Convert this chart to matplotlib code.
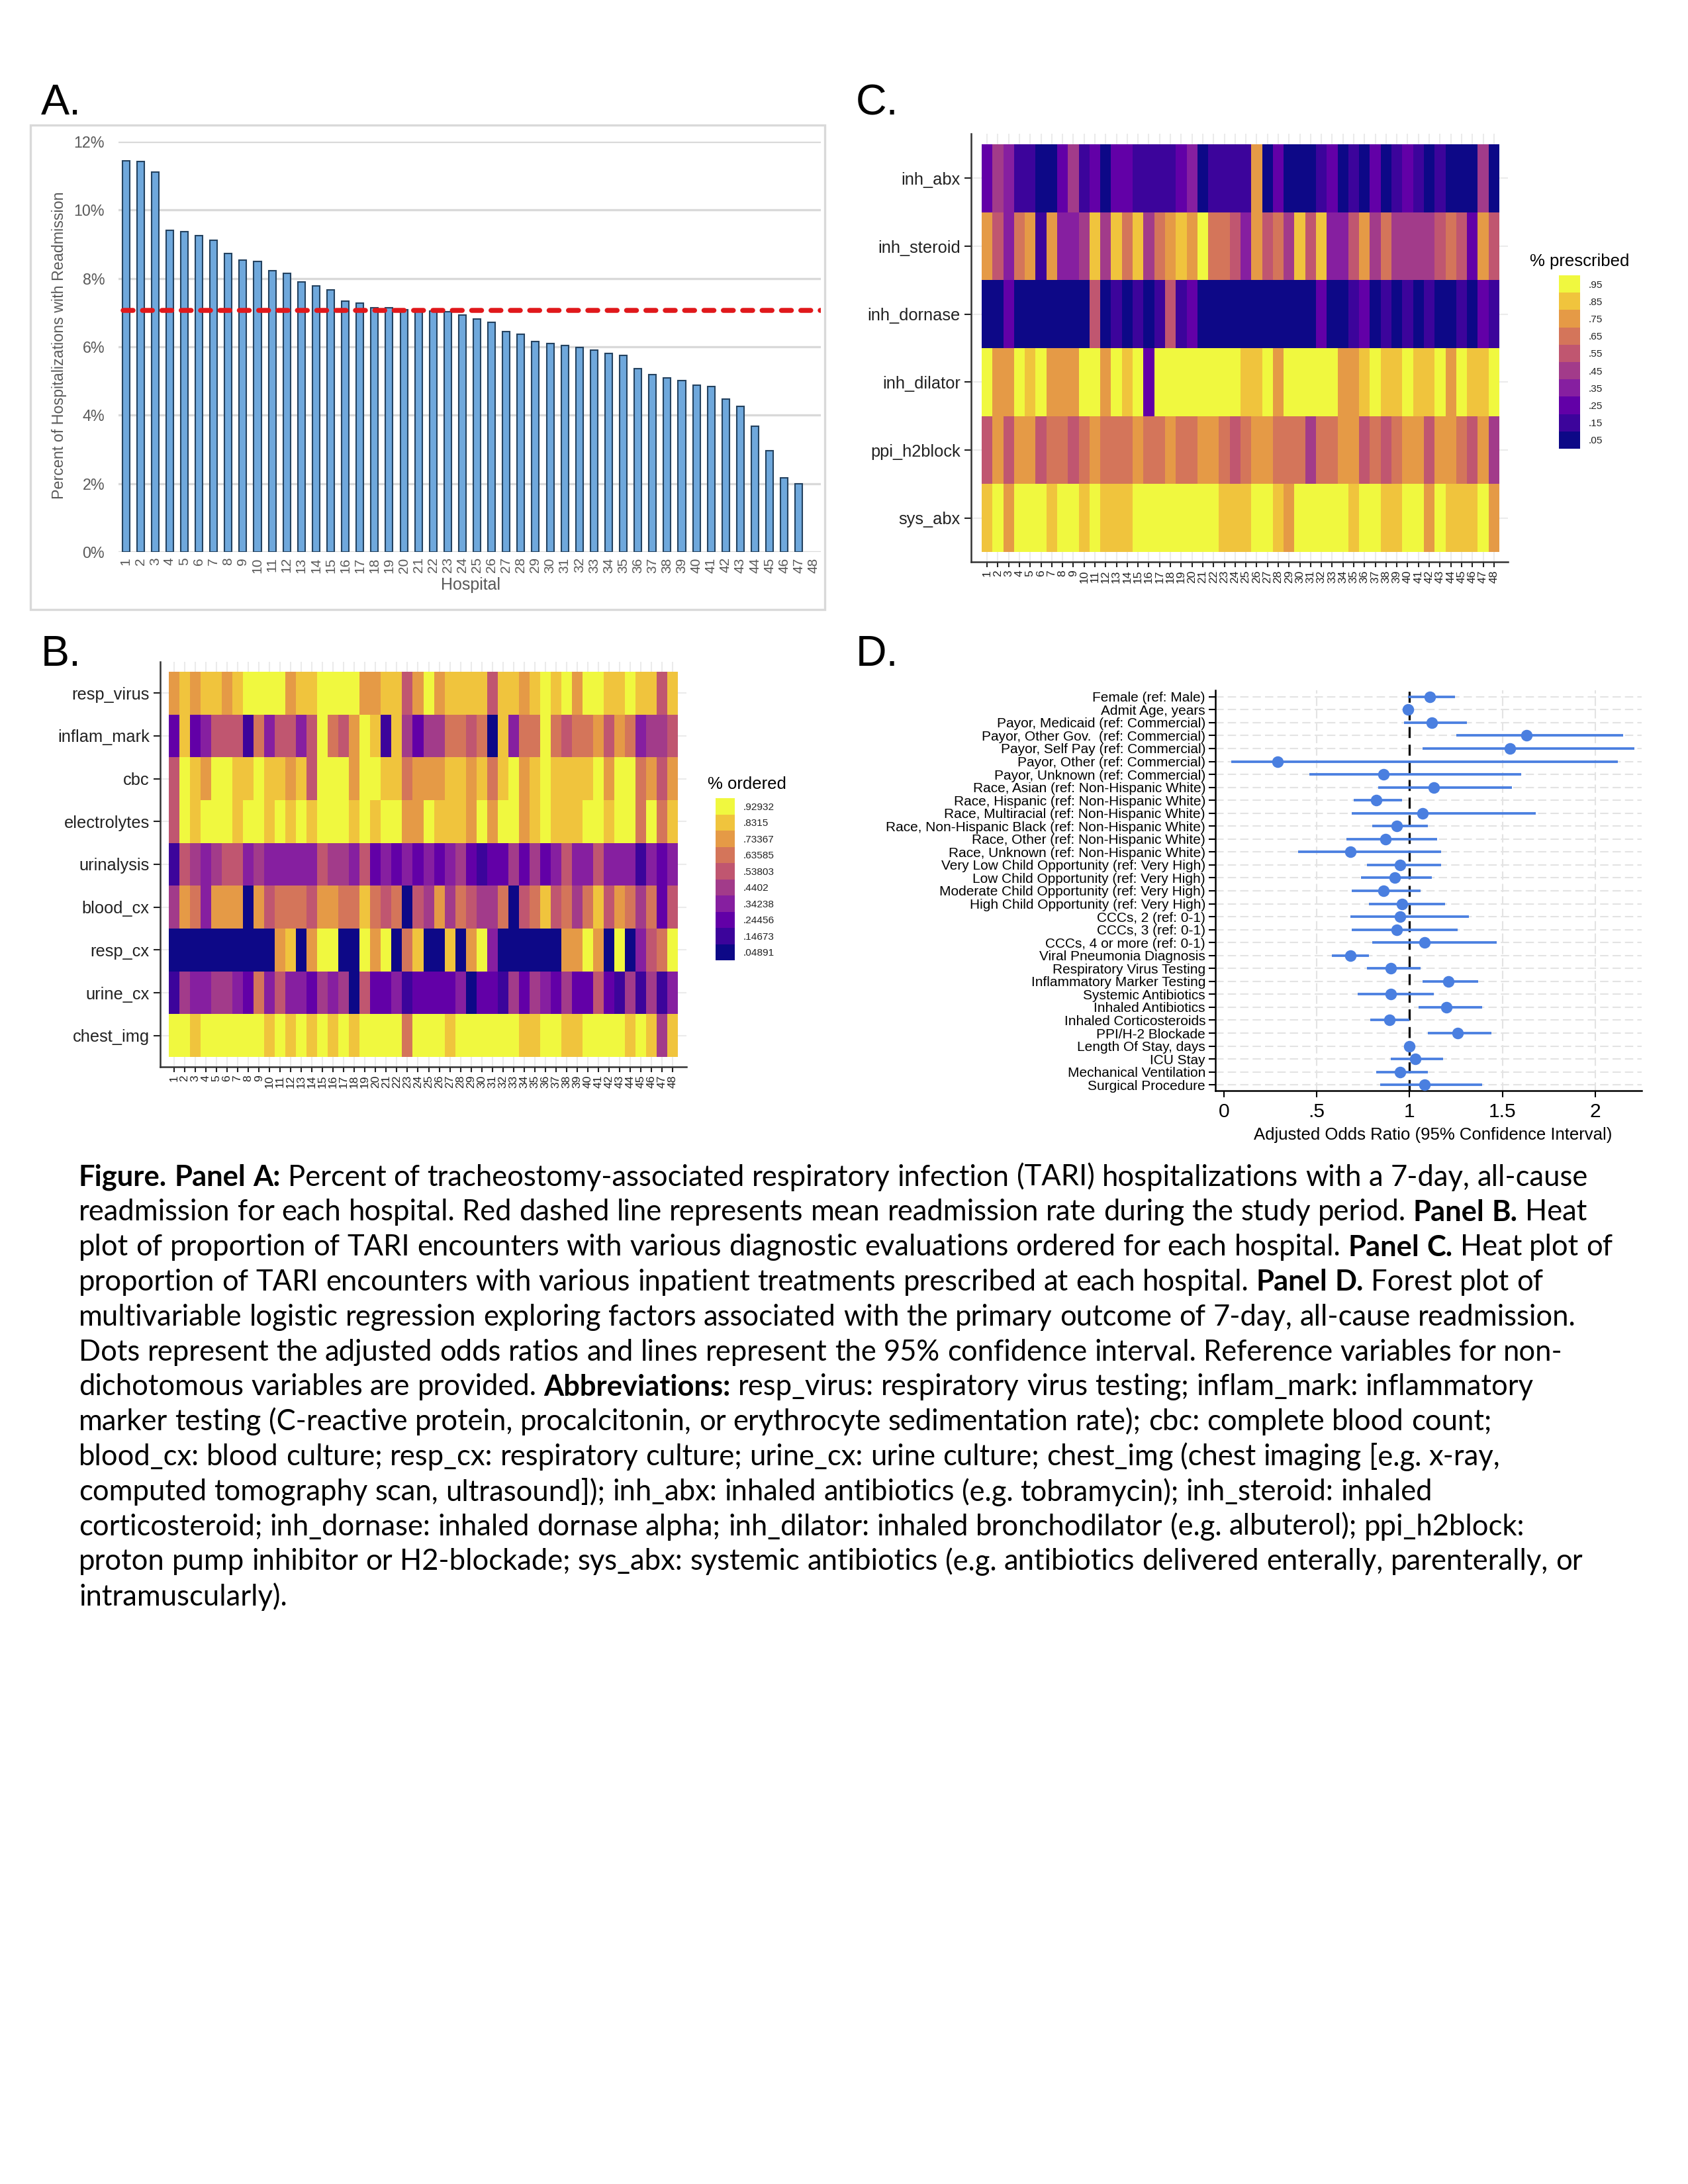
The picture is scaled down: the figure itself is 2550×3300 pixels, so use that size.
import numpy as np
import matplotlib
matplotlib.use('Agg')
import matplotlib.pyplot as plt
from matplotlib.colors import ListedColormap, BoundaryNorm
from matplotlib.patches import Rectangle
from matplotlib.font_manager import FontProperties

## ---------------- data ----------------
# Panel A : 7-day readmission (%) by hospital
hosp_ticks = [str(k) for k in range(1, 49)]
readmit = [11.44, 11.41, 11.11, 9.41, 9.36, 9.26, 9.12, 8.72, 8.54, 8.50, 8.23, 8.14,
           7.90, 7.78, 7.67, 7.33, 7.28, 7.15, 7.15, 7.08, 7.07, 7.05, 7.03, 6.92,
           6.82, 6.72, 6.45, 6.37, 6.15, 6.09, 6.04, 5.98, 5.91, 5.80, 5.74, 5.37,
           5.19, 5.10, 5.01, 4.88, 4.84, 4.47, 4.25, 3.68, 2.96, 2.17, 1.99]
mean_readmit = 7.06

# Panel B : proportion ordered
rows_B = ['resp_virus', 'inflam_mark', 'cbc', 'electrolytes', 'urinalysis',
          'blood_cx', 'resp_cx', 'urine_cx', 'chest_img']
resp_virus = [.75,.85,.75,.85,.85,.75,.85,.95, .95,.95,.95,.75,.85,.85,.95,.95,
              .95,.95,.75,.75,.85,.85,.55,.75, .95,.75,.85,.85,.85,.85,.55,.85,
              .85,.75,.85,.95,.85,.95,.75,.95, .95,.85,.85,.95,.85,.85,.55,.85]
inflam_mark = [.25,.85,.25,.35,.55,.55,.55,.15, .65,.35,.55,.55,.35,.55,.95,.65,
               .55,.75,.95,.85,.15,.85,.45,.25, .45,.45,.65,.65,.55,.65,.05,.85,
               .35,.65,.65,.95,.65,.55,.65,.65, .75,.55,.75,.65,.35,.45,.45,.55]
cbc = [.55,.95,.85,.75,.95,.95,.85,.85, .95,.85,.85,.75,.85,.55,.95,.95,
       .95,.75,.95,.95,.85,.85,.65,.75, .75,.75,.85,.85,.75,.85,.65,.85,
       .95,.75,.85,.95,.85,.85,.85,.85, .95,.75,.95,.95,.65,.75,.55,.75]
electrolytes = [.55,.95,.85,.95,.95,.95,.85,.95, .95,.85,.95,.85,.95,.85,.95,.95,
                .95,.85,.95,.85,.95,.95,.75,.75, .95,.85,.85,.85,.75,.95,.75,.95,
                .95,.75,.85,.95,.85,.85,.85,.95, .95,.85,.95,.95,.65,.95,.65,.85]
urinalysis = [.15,.55,.45,.35,.45,.55,.55,.35, .45,.35,.35,.35,.35,.35,.55,.45,
              .45,.35,.55,.25,.35,.25,.35,.25, .35,.25,.35,.45,.25,.15,.25,.25,
              .45,.25,.45,.25,.35,.55,.35,.35, .55,.35,.35,.35,.15,.35,.25,.35]
blood_cx = [.45,.75,.65,.35,.75,.75,.75,.05, .75,.55,.65,.65,.65,.55,.75,.75,
            .65,.65,.85,.65,.55,.65,.05,.55, .45,.75,.45,.65,.55,.45,.45,.65,
            .05,.55,.65,.85,.55,.65,.45,.65, .85,.55,.75,.65,.45,.65,.25,.55]
resp_cx = [.05,.05,.05,.05,.05,.05,.05,.05, .05,.05,.75,.85,.05,.75,.95,.95,
           .05,.05,.95,.75,.95,.05,.65,.85, .05,.05,.85,.05,.75,.95,.35,.05,
           .05,.05,.05,.05,.05,.75,.75,.95, .75,.05,.95,.05,.35,.55,.65,.95]
urine_cx = [.15,.45,.35,.35,.45,.45,.35,.25, .65,.35,.55,.35,.35,.25,.45,.35,
            .45,.05,.55,.25,.25,.35,.15,.25, .25,.25,.25,.35,.05,.25,.25,.15,
            .45,.25,.45,.35,.25,.45,.25,.25, .55,.25,.15,.45,.15,.45,.15,.35]
chest_img = [.95,.95,.85,.95,.95,.95,.95,.95, .95,.85,.95,.85,.95,.85,.95,.85,
             .95,.85,.95,.95,.95,.95,.65,.95, .95,.95,.85,.95,.95,.95,.95,.95,
             .95,.85,.85,.95,.95,.85,.85,.95, .95,.95,.95,.85,.95,.85,.45,.85]
legend_B = ['.04891', '.14673', '.24456', '.34238', '.4402', '.53803', '.63585',
            '.73367', '.8315', '.92932']

# Panel C : proportion prescribed
rows_C = ['inh_abx', 'inh_steroid', 'inh_dornase', 'inh_dilator', 'ppi_h2block', 'sys_abx']
inh_abx = [.25,.45,.35,.15,.15,.05,.05,.25, .45,.15,.25,.05,.25,.25,.15,.15,
           .15,.15,.25,.35,.05,.15,.15,.15, .15,.75,.05,.25,.05,.05,.05,.15,
           .25,.05,.15,.05,.25,.05,.15,.25, .15,.05,.15,.05,.05,.05,.45,.05]
inh_steroid = [.75,.55,.35,.65,.75,.15,.75,.35, .35,.45,.85,.45,.85,.65,.85,.45,
               .65,.75,.85,.75,.95,.65,.65,.55, .35,.75,.55,.65,.45,.85,.55,.85,
               .35,.35,.55,.75,.45,.65,.45,.45, .45,.45,.55,.65,.55,.25,.75,.55]
inh_dornase = [.05,.05,.25,.05,.05,.05,.05,.05, .05,.05,.55,.05,.15,.05,.15,.05,
               .15,.55,.15,.25,.05,.05,.05,.05, .05,.05,.05,.05,.05,.05,.05,.25,
               .05,.05,.15,.25,.05,.15,.05,.15, .05,.15,.05,.05,.15,.05,.25,.15]
inh_dilator = [.95,.75,.75,.95,.85,.95,.75,.75, .75,.95,.95,.75,.95,.85,.95,.25,
               .95,.95,.95,.95,.95,.95,.95,.95, .85,.85,.95,.75,.95,.95,.95,.95,
               .95,.75,.75,.85,.95,.85,.85,.95, .85,.85,.95,.75,.95,.85,.85,.95]
ppi_h2block = [.55,.75,.55,.75,.75,.55,.65,.65, .55,.65,.75,.65,.65,.65,.75,.65,
               .65,.75,.65,.65,.75,.75,.65,.55, .65,.75,.75,.65,.65,.65,.45,.65,
               .65,.75,.75,.55,.65,.55,.65,.75, .75,.55,.75,.75,.65,.55,.75,.45]
sys_abx = [.85,.95,.75,.95,.95,.95,.85,.95, .95,.85,.95,.85,.85,.85,.95,.95,
           .95,.95,.95,.95,.95,.95,.85,.85, .85,.95,.95,.85,.75,.95,.95,.95,
           .95,.95,.85,.95,.95,.85,.85,.95, .95,.75,.95,.85,.85,.85,.95,.75]
legend_C = ['.05', '.15', '.25', '.35', '.45', '.55', '.65', '.75', '.85', '.95']

# Panel D : adjusted odds ratios
labels_D = ["Female (ref: Male)", "Admit Age, years", "Payor, Medicaid (ref: Commercial)",
            "Payor, Other Gov.  (ref: Commercial)", "Payor, Self Pay (ref: Commercial)",
            "Payor, Other (ref: Commercial)", "Payor, Unknown (ref: Commercial)",
            "Race, Asian (ref: Non-Hispanic White)", "Race, Hispanic (ref: Non-Hispanic White)",
            "Race, Multiracial (ref: Non-Hispanic White)",
            "Race, Non-Hispanic Black (ref: Non-Hispanic White)",
            "Race, Other (ref: Non-Hispanic White)", "Race, Unknown (ref: Non-Hispanic White)",
            "Very Low Child Opportunity (ref: Very High)", "Low Child Opportunity (ref: Very High)",
            "Moderate Child Opportunity (ref: Very High)", "High Child Opportunity (ref: Very High)",
            "CCCs, 2 (ref: 0-1)", "CCCs, 3 (ref: 0-1)", "CCCs, 4 or more (ref: 0-1)",
            "Viral Pneumonia Diagnosis", "Respiratory Virus Testing", "Inflammatory Marker Testing",
            "Systemic Antibiotics", "Inhaled Antibiotics", "Inhaled Corticosteroids",
            "PPI/H-2 Blockade", "Length Of Stay, days", "ICU Stay", "Mechanical Ventilation",
            "Surgical Procedure"]
aor = [1.11, 0.99, 1.12, 1.63, 1.54, 0.29, 0.86, 1.13, 0.82, 1.07, 0.93, 0.87, 0.68,
       0.95, 0.92, 0.86, 0.96, 0.95, 0.93, 1.08, 0.68, 0.90, 1.21, 0.90, 1.20, 0.89,
       1.26, 1.00, 1.03, 0.95, 1.08]
ci_lo = [0.99, 0.985, 0.97, 1.25, 1.07, 0.04, 0.46, 0.83, 0.70, 0.69, 0.80, 0.66, 0.40,
         0.77, 0.74, 0.69, 0.78, 0.68, 0.69, 0.80, 0.58, 0.77, 1.07, 0.72, 1.05, 0.79,
         1.10, 0.995, 0.90, 0.82, 0.84]
ci_hi = [1.245, 1.0, 1.31, 2.15, 2.21, 2.12, 1.60, 1.55, 0.96, 1.68, 1.10, 1.15, 1.17,
         1.17, 1.12, 1.06, 1.19, 1.32, 1.26, 1.47, 0.78, 1.06, 1.37, 1.13, 1.39, 1.00,
         1.44, 1.005, 1.18, 1.10, 1.39]

## ---------------- figure ----------------
W, H = 2550, 3300
fig = plt.figure(figsize=(8.5, 11), dpi=300)
plt.rcParams['font.family'] = ['Liberation Sans', 'DejaVu Sans']

def box(x0, y0, x1, y1):  # pixel box (top-left origin) -> figure fraction
    return [x0 / W, 1 - y1 / H, (x1 - x0) / W, (y1 - y0) / H]

# plasma, 10 steps (a bit muted, as in the picture)
steps10 = ['#0d0887', '#3c049b', '#6200a7', '#861fa0', '#a23b8a', '#c05670',
           '#d4755a', '#e59a46', '#f0c43d', '#f0f83f']
cmap10 = ListedColormap(steps10)

# panel letters
for txt, x, y in [('A.', 62, 156), ('C.', 1293, 156), ('B.', 62, 989), ('D.', 1293, 989)]:
    fig.text(x / W, 1 - y / H, txt, fontsize=15.5, va='center', ha='left')

#-------------------- Panel A --------------------
grey = '#595959'
fig.patches.append(Rectangle((46 / W, 1 - 921 / H), (1246 - 46) / W, (921 - 189) / H,
                             transform=fig.transFigure, fill=False, ec='#d9d9d9', lw=0.8))
axA = fig.add_axes(box(179, 214, 1240, 834))
pos = np.arange(1, len(readmit) + 1)
axA.bar(pos, readmit, width=0.5, color='#6fa8dc', edgecolor='#24425f', lw=0.5, zorder=2)
axA.plot([0.8, 48.5], [mean_readmit, mean_readmit], color='#e0181b', lw=1.8,
         ls=(0, (2.0, 1.9)), dash_capstyle='round', zorder=3)
axA.set_xlim(0.5, 48.5)
axA.set_ylim(0, 12)
axA.set_yticks(range(0, 13, 2))
axA.set_yticklabels(['%d%%' % v for v in range(0, 13, 2)])
axA.set_xticks(range(1, 49))
axA.set_xticklabels(hosp_ticks, rotation=90)
axA.tick_params(axis='both', length=0, colors=grey, labelsize=5.6)
axA.tick_params(axis='y', pad=5)
axA.tick_params(axis='x', pad=2, labelsize=5.0)
axA.grid(axis='y', color='#d9d9d9', lw=0.8, zorder=0)
axA.set_axisbelow(True)
for s in axA.spines.values():
    s.set_visible(False)
fig.text(90 / W, 1 - 522 / H, 'Percent of Hospitalizations with Readmission', rotation=90,
         ha='center', va='center', fontsize=5.6, color=grey)
fig.text(711 / W, 1 - 884 / H, 'Hospital', ha='center', va='center', fontsize=6.0, color=grey)

#-------------------- heatmaps --------------------
def heatmap(ax, rows, data, norm, padx, pady):
    vals = np.array(data)
    nr, nc = vals.shape
    for k in range(1, nc + 1):
        ax.axvline(k, color='#ebebeb', lw=0.5, zorder=0)
    for k in range(1, nr + 1):
        ax.axhline(k, color='#ebebeb', lw=0.5, zorder=0)
    ax.pcolormesh(np.arange(0.5, nc + 1), np.arange(0.5, nr + 1), vals, cmap=cmap10,
                  norm=norm, zorder=2)
    ax.set_xlim(0.5 - padx[0], nc + 0.5 + padx[1])
    ax.set_ylim(nr + 0.5 + pady[1], 0.5 - pady[0])
    ax.set_yticks(range(1, nr + 1))
    ax.set_yticklabels(rows)
    ax.set_xticks(range(1, nc + 1))
    ax.set_xticklabels([str(k) for k in range(1, nc + 1)], rotation=90)
    ax.tick_params(axis='y', length=2.4, width=0.5, labelsize=6.1, pad=1.5, colors='#222222')
    ax.tick_params(axis='x', length=2.0, width=0.5, labelsize=4.2, pad=1.0, colors='#222222')
    for s in ['top', 'right']:
        ax.spines[s].set_visible(False)
    for s in ['left', 'bottom']:
        ax.spines[s].set_linewidth(0.6)
        ax.spines[s].set_color('#333333')

def legend(ax, labels, title, tx, ty):
    ax.pcolormesh([0, 1], np.arange(11), np.arange(10).reshape(-1, 1), cmap=cmap10,
                  vmin=-0.5, vmax=9.5)
    ax.set_xlim(0, 1)
    ax.set_ylim(0, 10)
    ax.set_xticks([])
    ax.set_yticks(np.arange(0.5, 10))
    ax.set_yticklabels(labels)
    ax.yaxis.tick_right()
    ax.tick_params(axis='y', length=0, labelsize=3.7, pad=3, colors='#222222')
    for s in ax.spines.values():
        s.set_visible(False)
    fig.text(tx / W, 1 - ty / H, title, fontsize=6.2, ha='left', va='center')

# Panel C
normC = BoundaryNorm(np.linspace(0, 1, 11), 10)
axC = fig.add_axes(box(1467, 202, 2278, 849))
heatmap(axC, rows_C, [inh_abx, inh_steroid, inh_dornase, inh_dilator, ppi_h2block, sys_abx],
        normC, (0.98, 0.8), (0.156, 0.146))
legC = fig.add_axes(box(2355, 416, 2387, 678))
legend(legC, legend_C, '% prescribed', 2311, 395)

# Panel B
normB = BoundaryNorm(np.linspace(0, 0.97820, 11), 10)
axB = fig.add_axes(box(242, 1000, 1037, 1612))
heatmap(axB, rows_B, [resp_virus, inflam_mark, cbc, electrolytes, urinalysis, blood_cx,
                      resp_cx, urine_cx, chest_img], normB, (0.81, 0.81), (0.23, 0.23))
legB = fig.add_axes(box(1081, 1206, 1110, 1451))
legend(legB, legend_B, '% ordered', 1069, 1185)

#-------------------- Panel D --------------------
axD = fig.add_axes(box(1836, 1043, 2480, 1648))
yy = np.arange(len(labels_D))
blue = '#4a7fe0'
for y in yy:
    axD.axhline(y, color='#e3e3e3', lw=0.5, ls=(0, (6, 3)), zorder=0)
for x in [0.5, 1.5, 2.0]:
    axD.axvline(x, color='#e3e3e3', lw=0.5, ls=(0, (6, 3)), zorder=0)
axD.axvline(1, color='#111111', lw=0.8, ls=(0, (5, 3)), zorder=1)
axD.hlines(yy, ci_lo, ci_hi, color=blue, lw=0.9, zorder=2)
axD.plot(aor, yy, 'o', color=blue, ms=3.2, zorder=3)
axD.set_ylim(len(labels_D) - 0.55, -0.5)
axD.set_xlim(-0.046, 2.25)
axD.set_yticks(yy)
axD.set_yticklabels(labels_D)
axD.set_xticks([0, 0.5, 1, 1.5, 2])
axD.set_xticklabels(['0', '.5', '1', '1.5', '2'])
axD.tick_params(axis='y', length=2.4, width=0.5, labelsize=5.0, pad=1.2)
axD.tick_params(axis='x', length=2.4, width=0.5, labelsize=7.2, pad=2)
for s in ['top', 'right']:
    axD.spines[s].set_visible(False)
for s in ['left', 'bottom']:
    axD.spines[s].set_linewidth(0.6)
fig.text(2165 / W, 1 - 1715 / H, 'Adjusted Odds Ratio (95% Confidence Interval)',
         ha='center', va='center', fontsize=6.2)

#-------------------- caption --------------------
cap_family = ['Lato', 'DejaVu Sans']
caption = [
    [("Figure. Panel A:", True), ("Percent of tracheostomy-associated respiratory infection (TARI) hospitalizations with a 7-day, all-cause", False)],
    [("readmission for each hospital. Red dashed line represents mean readmission rate during the study period.", False), ("Panel B.", True), ("Heat", False)],
    [("plot of proportion of TARI encounters with various diagnostic evaluations ordered for each hospital.", False), ("Panel C.", True), ("Heat plot of", False)],
    [("proportion of TARI encounters with various inpatient treatments prescribed at each hospital.", False), ("Panel D.", True), ("Forest plot of", False)],
    [("multivariable logistic regression exploring factors associated with the primary outcome of 7-day, all-cause readmission.", False)],
    [("Dots represent the adjusted odds ratios and lines represent the 95% confidence interval. Reference variables for non-", False)],
    [("dichotomous variables are provided.", False), ("Abbreviations:", True), ("resp_virus: respiratory virus testing; inflam_mark: inflammatory", False)],
    [("marker testing (C-reactive protein, procalcitonin, or erythrocyte sedimentation rate); cbc: complete blood count;", False)],
    [("blood_cx: blood culture; resp_cx: respiratory culture; urine_cx: urine culture; chest_img (chest imaging [e.g. x-ray,", False)],
    [("computed tomography scan, ultrasound]); inh_abx: inhaled antibiotics (e.g. tobramycin); inh_steroid: inhaled", False)],
    [("corticosteroid; inh_dornase: inhaled dornase alpha; inh_dilator: inhaled bronchodilator (e.g. albuterol); ppi_h2block:", False)],
    [("proton pump inhibitor or H2-blockade; sys_abx: systemic antibiotics (e.g. antibiotics delivered enterally, parenterally, or", False)],
    [("intramuscularly).", False)],
]
renderer = fig.canvas.get_renderer()

def text_w(s, bold, size):
    fp = FontProperties(family=cap_family, weight='bold' if bold else 'normal', size=size)
    w, h, d = renderer.get_text_width_height_descent(s, fp, ismath=False)
    return w

def line_words(line):
    words = []
    for seg, bold in line:
        for wd in seg.split(' '):
            if wd:
                words.append((wd, bold))
    return words

def line_width(line, size):
    words = line_words(line)
    sp = text_w('a a', False, size) - text_w('aa', False, size)
    return sum(text_w(wd, b, size) for wd, b in words) + sp * (len(words) - 1)

base = 10.0
cap_size = base * 2281 / line_width(caption[0], base)
space = text_w('a a', False, cap_size) - text_w('aa', False, cap_size)
x0, y0, dy = 119, 1779, 52.8
for i, line in enumerate(caption):
    x = x0
    y = y0 + i * dy
    for wd, b in line_words(line):
        fig.text(x / W, 1 - y / H, wd, fontsize=cap_size, family=cap_family,
                 weight='bold' if b else 'normal', ha='left', va='center')
        x += text_w(wd, b, cap_size) + space

fig.savefig('out.png', dpi=300)
